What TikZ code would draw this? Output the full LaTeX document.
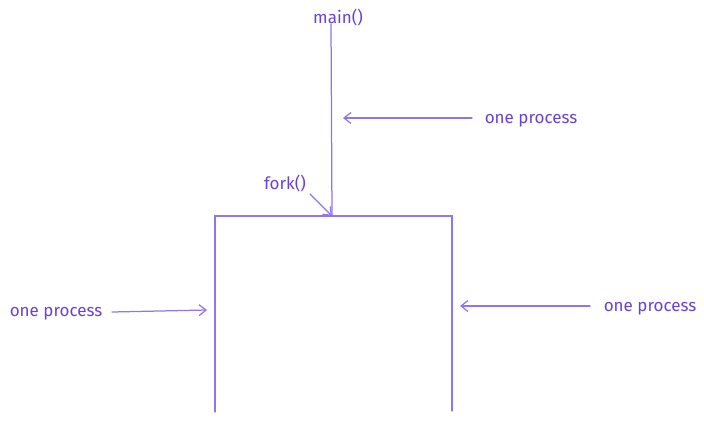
\documentclass[tikz,border=0pt]{standalone}
\usepackage{fontspec}
\setmainfont{Fira Sans}
\usetikzlibrary{arrows.meta}
\definecolor{linec}{HTML}{9075F2}
\definecolor{textc}{HTML}{6741D9}
\tikzset{
  lbl/.style={text=textc, font=\fontsize{17}{19}\selectfont, inner sep=0pt, anchor=center},
  ln/.style={draw=linec, line width=1.25pt, line cap=round},
  arr/.style={ln, -{Straight Barb[length=7pt,width=11pt]}},
}
\begin{document}
\begin{tikzpicture}[x=1pt,y=-1pt]
\useasboundingbox (0,0) rectangle (704,433);
\node[lbl] (main) at (338,18) {main()};
\node[lbl] (fork) at (285,184) {fork()};
\node[lbl] (p1) at (531,121) {one process};
\node[lbl] (p2) at (56,314) {one process};
\node[lbl] (p3) at (650,309) {one process};
\coordinate (mtop) at (331,24);
\coordinate (split) at (332,216);
\coordinate (tl) at (215,216);
\coordinate (tr) at (452,216);
\coordinate (bl) at (215,412);
\coordinate (br) at (452,411);
\coordinate (a1s) at (472,118);
\coordinate (a1e) at (343,118);
\coordinate (a2s) at (112,312);
\coordinate (a2e) at (207,310);
\coordinate (a3s) at (590,306);
\coordinate (a3e) at (460,306);
\coordinate (a4s) at (310,194);
\draw[ln] (mtop) -- (split);
\draw[ln] (bl) -- (tl) -- (tr) -- (br);
\draw[arr] (a1s) -- (a1e);
\draw[arr] (a2s) -- (a2e);
\draw[arr] (a3s) -- (a3e);
\draw[arr] (a4s) -- (split);
\end{tikzpicture}
\end{document}
